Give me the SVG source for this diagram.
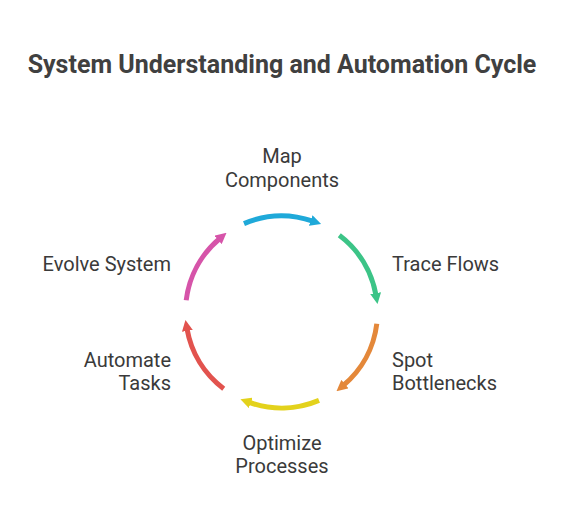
<svg xmlns="http://www.w3.org/2000/svg" width="564" height="528" viewBox="0 0 564 528">
<style>
.title{font-family:Roboto,"Liberation Sans",sans-serif;font-weight:bold;font-size:25px;fill:#404040}
.lbl{font-family:Roboto,"Liberation Sans",sans-serif;font-size:20px;fill:#3a3a3a}
.arc{fill:none;stroke-width:5}
</style>
<defs>
<marker id="mC" viewBox="0 0 10 10" refX="2" refY="5" markerUnits="userSpaceOnUse" markerWidth="11" markerHeight="11" orient="auto"><path d="M0,0 L10,5 L0,10 z" fill="#1FA9D9"/></marker>
<marker id="mG" viewBox="0 0 10 10" refX="2" refY="5" markerUnits="userSpaceOnUse" markerWidth="11" markerHeight="11" orient="auto"><path d="M0,0 L10,5 L0,10 z" fill="#3CC487"/></marker>
<marker id="mO" viewBox="0 0 10 10" refX="2" refY="5" markerUnits="userSpaceOnUse" markerWidth="11" markerHeight="11" orient="auto"><path d="M0,0 L10,5 L0,10 z" fill="#E4883A"/></marker>
<marker id="mY" viewBox="0 0 10 10" refX="2" refY="5" markerUnits="userSpaceOnUse" markerWidth="11" markerHeight="11" orient="auto"><path d="M0,0 L10,5 L0,10 z" fill="#E3D21C"/></marker>
<marker id="mR" viewBox="0 0 10 10" refX="2" refY="5" markerUnits="userSpaceOnUse" markerWidth="11" markerHeight="11" orient="auto"><path d="M0,0 L10,5 L0,10 z" fill="#E2534E"/></marker>
<marker id="mP" viewBox="0 0 10 10" refX="2" refY="5" markerUnits="userSpaceOnUse" markerWidth="11" markerHeight="11" orient="auto"><path d="M0,0 L10,5 L0,10 z" fill="#D654A9"/></marker>
</defs>
<rect width="564" height="528" fill="#ffffff"/>
<text class="title" x="282" y="73" text-anchor="middle">System Understanding and Automation Cycle</text>
<g id="connectors">
<path class="arc" stroke="#1FA9D9" marker-end="url(#mC)" d="M244.0,223.6 A96,96 0 0 1 312.8,221.2"/>
<path class="arc" stroke="#3CC487" marker-end="url(#mG)" d="M339.3,235.3 A96,96 0 0 1 376.0,295.3"/>
<path class="arc" stroke="#E4883A" marker-end="url(#mO)" d="M376.8,323.7 A96,96 0 0 1 343.2,385.5"/>
<path class="arc" stroke="#E3D21C" marker-end="url(#mY)" d="M319.0,400.4 A96,96 0 0 1 248.7,402.2"/>
<path class="arc" stroke="#E2534E" marker-end="url(#mR)" d="M223.7,388.7 A96,96 0 0 1 187.0,328.7"/>
<path class="arc" stroke="#D654A9" marker-end="url(#mP)" d="M186.2,300.3 A96,96 0 0 1 219.8,238.5"/>
</g>
<g id="map-components"><text class="lbl" x="282" y="163" text-anchor="middle">Map</text><text class="lbl" x="282" y="187" text-anchor="middle">Components</text></g>
<g id="trace-flows"><text class="lbl" x="392" y="271">Trace Flows</text></g>
<g id="spot-bottlenecks"><text class="lbl" x="392" y="367">Spot</text><text class="lbl" x="392" y="390">Bottlenecks</text></g>
<g id="optimize-processes"><text class="lbl" x="282" y="450" text-anchor="middle">Optimize</text><text class="lbl" x="282" y="473" text-anchor="middle">Processes</text></g>
<g id="automate-tasks"><text class="lbl" x="171" y="367" text-anchor="end">Automate</text><text class="lbl" x="171" y="390" text-anchor="end">Tasks</text></g>
<g id="evolve-system"><text class="lbl" x="171" y="271" text-anchor="end">Evolve System</text></g>
</svg>
